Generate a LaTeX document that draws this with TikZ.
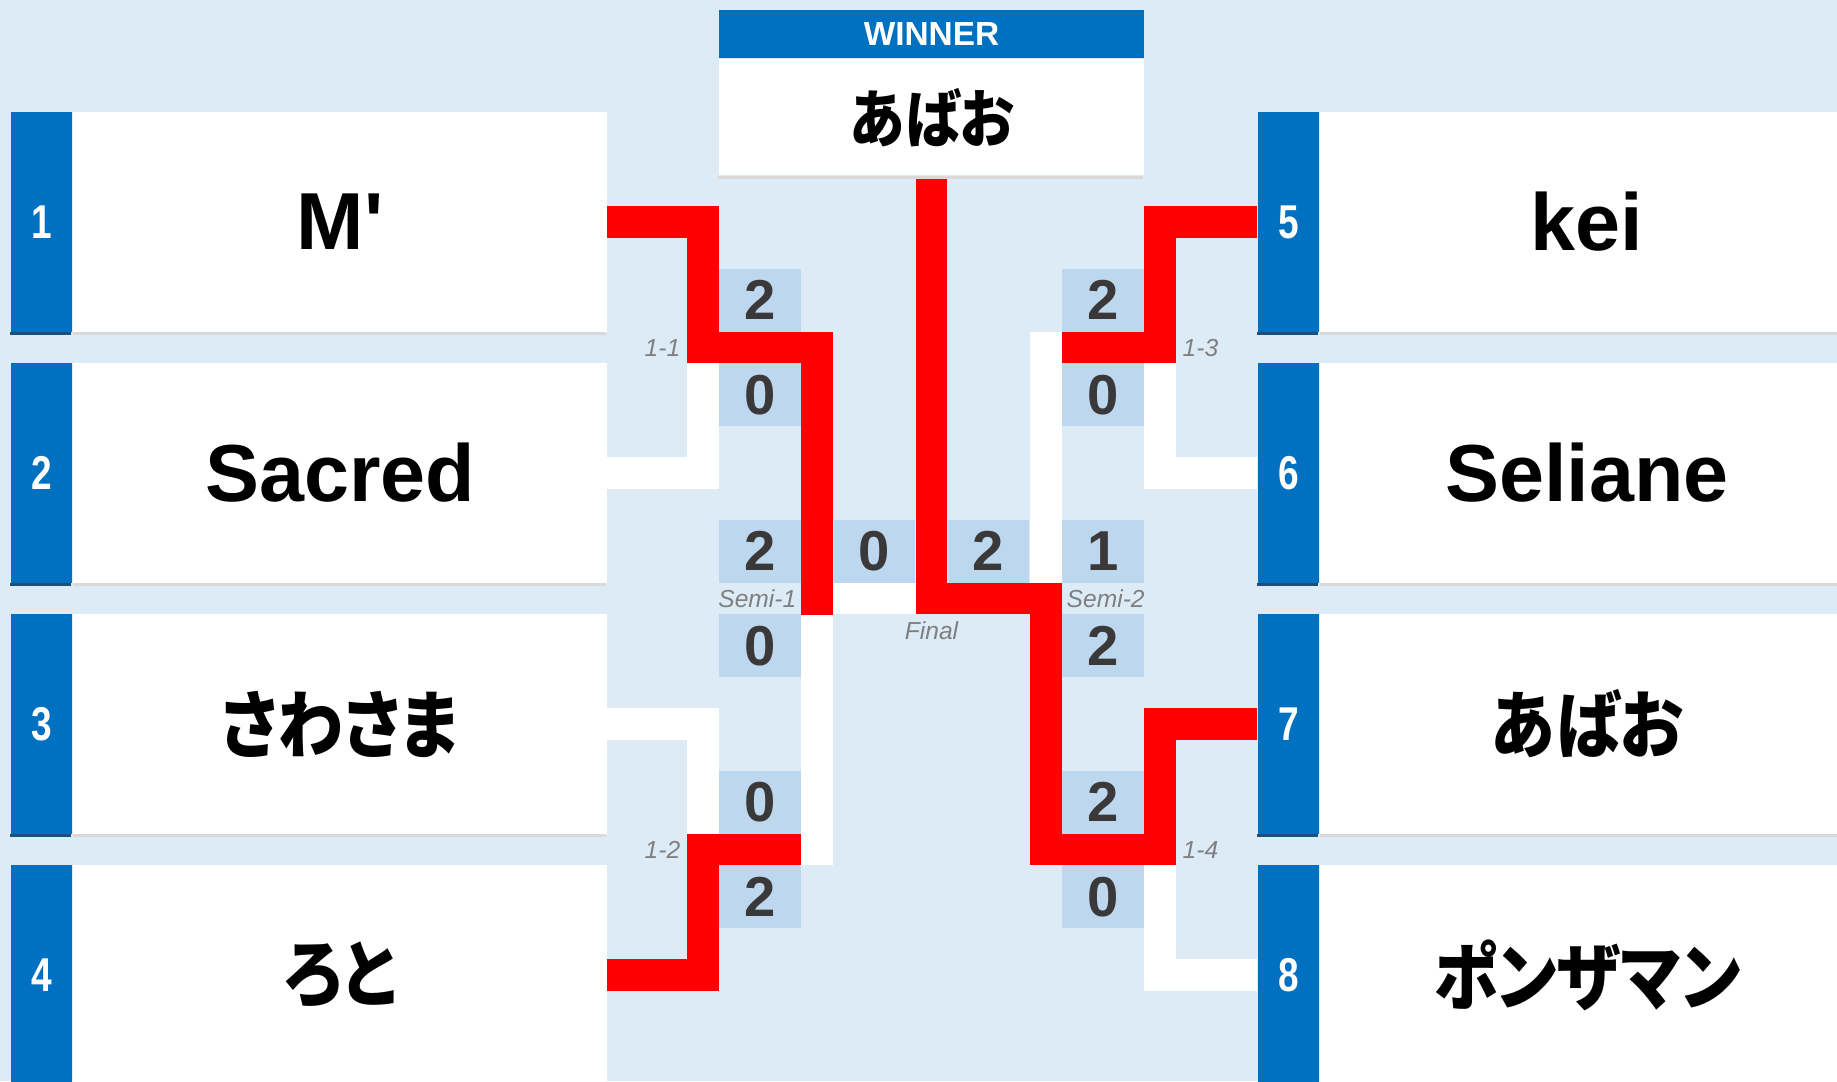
\documentclass[tikz,border=0pt]{standalone}
\usepackage{fontspec}
\setmainfont{Liberation Sans}
\newfontfamily\jpfont[RawFeature=+palt]{Noto Sans CJK JP}
\usetikzlibrary{positioning}
\definecolor{bgblue}{HTML}{DDEBF7}
\definecolor{scorefill}{HTML}{BDD7EE}
\definecolor{tabblue}{HTML}{0070C0}
\definecolor{tabdark}{HTML}{1F4E79}
\definecolor{shadowgrey}{HTML}{D9D9D9}
\definecolor{bred}{HTML}{FF0000}
\definecolor{scoretext}{HTML}{3A3838}
\definecolor{labelgrey}{HTML}{7F7F7F}
\newcommand{\seednum}[1]{\scalebox{0.78}[1]{#1}}
\newcommand{\jptext}[1]{\scalebox{0.88}[1]{#1}}
\tikzset{seedtab/.style = {fill=tabblue, text=white, inner sep=0, minimum width=0.61cm, minimum height=2.19cm, font=\bfseries\fontsize{13.5}{15}\selectfont}}
\tikzset{namebox/.style = {fill=white, inner sep=0, minimum width=5.33cm, minimum height=2.19cm, font=\bfseries\fontsize{23}{26}\selectfont}}
\tikzset{jpname/.style = {namebox, font=\jpfont\bfseries\fontsize{21}{24}\selectfont}}
\tikzset{scorecell/.style = {fill=scorefill, text=scoretext, inner sep=0, minimum width=0.82cm, minimum height=0.63cm, font=\bfseries\fontsize{16}{18}\selectfont}}
\tikzset{matchlabel/.style = {text=labelgrey, inner sep=0, font=\itshape\fontsize{7}{8}\selectfont}}
\tikzset{winline/.style = {draw=bred, line width=3.15mm, line join=miter}}
\tikzset{loseline/.style = {draw=white, line width=3.15mm, line join=miter}}

\begin{document}
\begin{tikzpicture}[x=0.01cm, y=-0.01cm]
    \useasboundingbox (0,0) rectangle (1837,1081);
    \clip (0,0) rectangle (1837,1081);
    \fill[bgblue] (0,0) rectangle (1837,1081);

    \node[fill=tabblue, text=white, inner sep=0, minimum width=4.25cm, minimum height=0.48cm, font=\bfseries\fontsize{9.5}{11}\selectfont] (winhead) at (931.5,34) {WINNER};
    \node[fill=white, inner sep=0, minimum width=4.25cm, minimum height=1.16cm, below=0cm of winhead, font=\jpfont\bfseries\fontsize{18}{21}\selectfont] (win) {\jptext{あばお}};

    \node[seedtab] (t1) at (41.5,222) {\seednum{1}};
    \node[seedtab] (t2) at (41.5,473) {\seednum{2}};
    \node[seedtab] (t3) at (41.5,724) {\seednum{3}};
    \node[seedtab] (t4) at (41.5,975) {\seednum{4}};
    \node[seedtab] (t5) at (1288.5,222) {\seednum{5}};
    \node[seedtab] (t6) at (1288.5,473) {\seednum{6}};
    \node[seedtab] (t7) at (1288.5,724) {\seednum{7}};
    \node[seedtab] (t8) at (1288.5,975) {\seednum{8}};
    \node[namebox, right=0cm of t1] (n1) {M\textquotesingle};
    \node[namebox, right=0cm of t2] (n2) {Sacred};
    \node[jpname, right=0cm of t3] (n3) {\jptext{さわさま}};
    \node[jpname, right=0cm of t4] (n4) {\jptext{ろと}};
    \node[namebox, right=0cm of t5] (n5) {kei};
    \node[namebox, right=0cm of t6] (n6) {Seliane};
    \node[jpname, right=0cm of t7] (n7) {\jptext{あばお}};
    \node[jpname, right=0cm of t8] (n8) {\jptext{ポンザマン}};

    \node[scorecell] (s11a) at (760,300.25) {2};
    \node[scorecell] (s11b) at (760,394.75) {0};
    \node[scorecell] (ss1a) at (760,551.25) {2};
    \node[scorecell] (ss1b) at (760,645.75) {0};
    \node[scorecell] (s12a) at (760,802.25) {0};
    \node[scorecell] (s12b) at (760,896.75) {2};
    \node[scorecell, minimum width=0.81cm] (sfa) at (874.5,551.25) {0};
    \node[scorecell, minimum width=0.81cm] (sfb) at (988.5,551.25) {2};
    \node[scorecell] (s13a) at (1103,300.25) {2};
    \node[scorecell] (s13b) at (1103,394.75) {0};
    \node[scorecell] (ss2a) at (1103,551.25) {1};
    \node[scorecell] (ss2b) at (1103,645.75) {2};
    \node[scorecell] (s14a) at (1103,802.25) {2};
    \node[scorecell] (s14b) at (1103,896.75) {0};

    \node[matchlabel, anchor=east] (l11) at (681,348) {1-1};
    \node[matchlabel, anchor=east] (l12) at (681,850) {1-2};
    \node[matchlabel, anchor=west] (l13) at (1182,348) {1-3};
    \node[matchlabel, anchor=west] (l14) at (1182,850) {1-4};
    \node[matchlabel, anchor=east] (ls1) at (797,598.5) {Semi-1};
    \node[matchlabel, anchor=west] (ls2) at (1066,598.5) {Semi-2};
    \node[matchlabel] (lfin) at (931.5,631) {Final};

    \coordinate (m11) at (703,347.5);
    \coordinate (m12) at (703,849.5);
    \coordinate (m13) at (1160,347.5);
    \coordinate (m14) at (1160,849.5);
    \coordinate (sf1) at (817,598.5);
    \coordinate (sf2) at (1046,598.5);
    \coordinate (fin) at (931.5,598.5);

    \draw[loseline] (n2.east) -| (m11);
    \draw[loseline] (n3.east) -| (m12);
    \draw[loseline] (m12) -| (sf1);
    \draw[loseline] (sf1) -- (fin);
    \draw[loseline] (t6.west) -| (m13);
    \draw[loseline] (m13) -| (sf2);
    \draw[loseline] (t8.west) -| (m14);

    \draw[winline] (n1.east) -| (m11) -| (sf1) -- ++(0,16);
    \draw[winline] (n4.east) -| (m12) -- ++(98,0);
    \draw[winline] (t5.west) -| (m13) -- ++(-98,0);
    \draw[winline] (t7.west) -| (m14) -| (sf2) -| (win.south);

    \foreach \i in {1,...,8} {
        \fill[tabdark] (t\i.south west) rectangle ++(61,3);
        \fill[shadowgrey] (n\i.south west) rectangle ++(533,3);
    }
    \fill[shadowgrey] (win.south west) rectangle ++(425,3);
\end{tikzpicture}
\end{document}
